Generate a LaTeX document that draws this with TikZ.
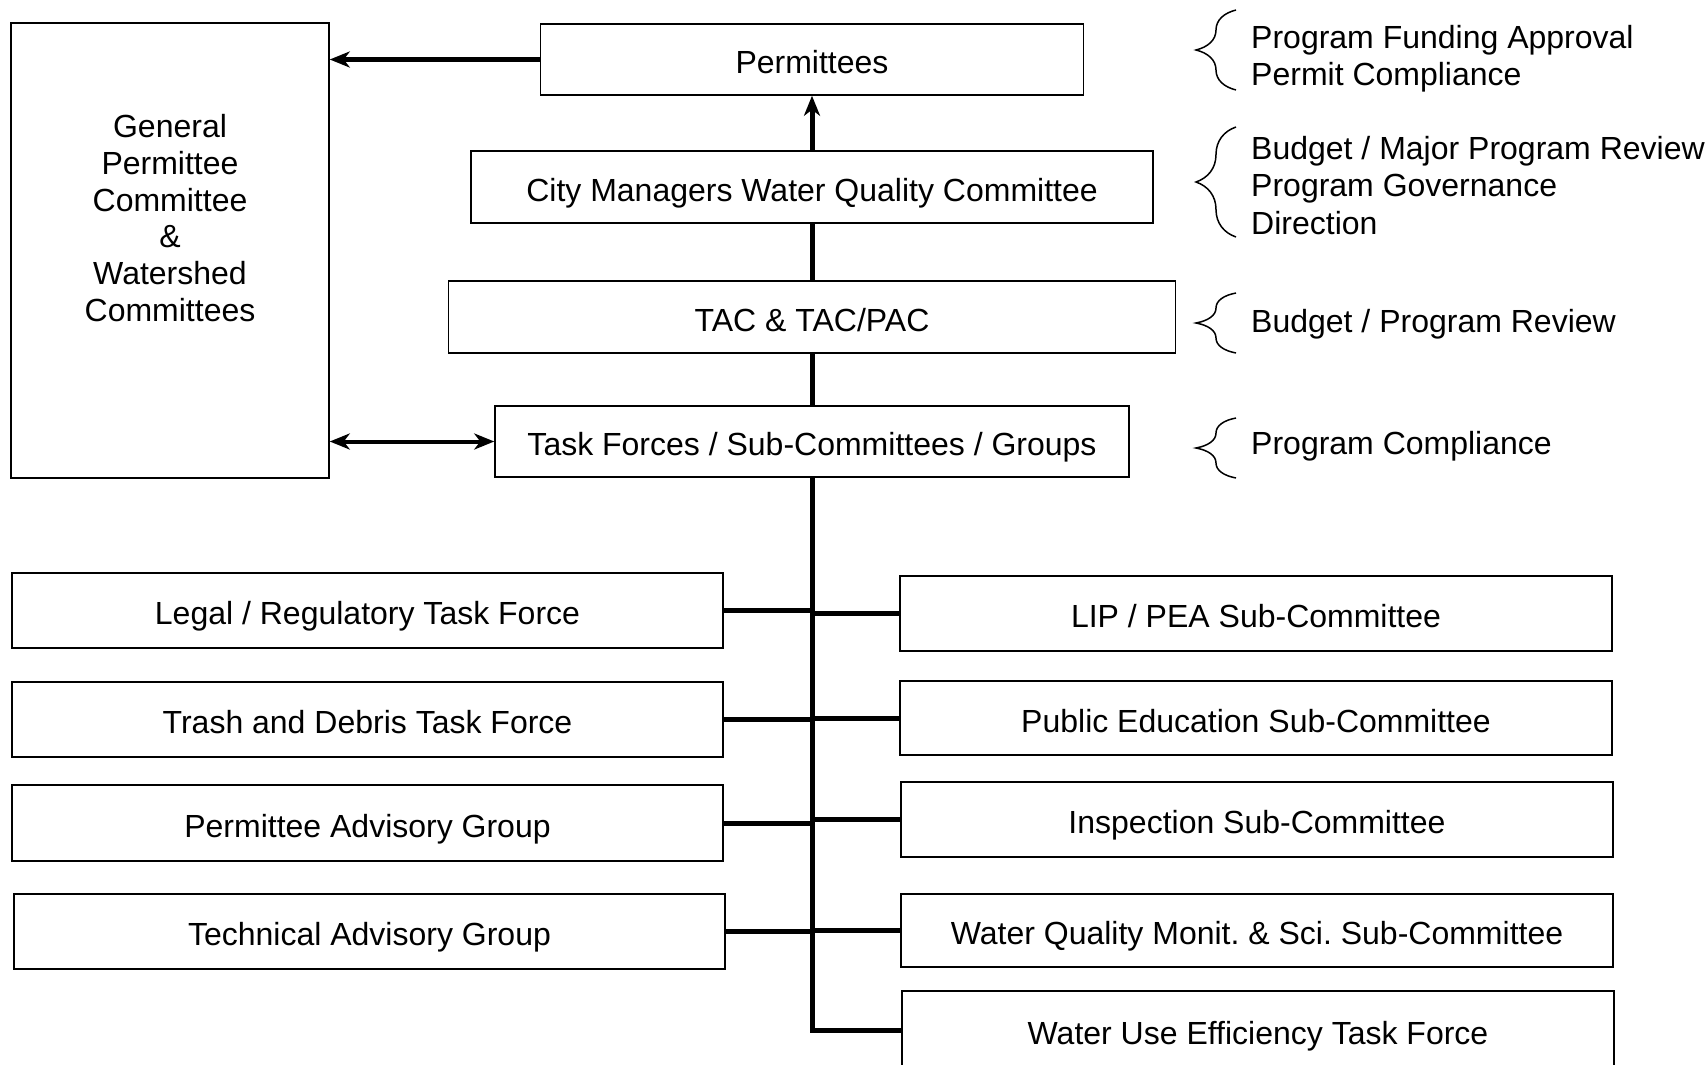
\documentclass[tikz,border=0pt]{standalone}
\usepackage{fontspec}
\setmainfont{Liberation Sans}
\usetikzlibrary{arrows.meta,decorations.pathreplacing}
\begin{document}
\frenchspacing
\begin{tikzpicture}[x=1pt,y=-1pt,
  box/.style={draw, line width=1.5pt, fill=white, rectangle, inner sep=0pt,
    text height=30pt, text depth=2pt,
    font=\fontsize{32}{37}\selectfont},
  conn/.style={line width=5pt},
  tipS/.tip={Stealth[length=20pt,width=16pt,inset=6pt]},
  arr/.style={line width=5pt, -tipS},
  darr/.style={line width=4pt, tipS-tipS},
  brc/.style={decorate, decoration={brace, amplitude=40pt}, line width=1.5pt},
  note/.style={anchor=west, align=left, inner sep=0pt,
    font=\fontsize{32}{37.5}\selectfont}]
\useasboundingbox (0,0) rectangle (1708,1065);

% left big box
\node[draw, line width=1.5pt, fill=white, minimum width=318pt, minimum height=455pt] (gpc) at (170,250.5) {};
\node[align=center, inner sep=0pt, font=\fontsize{32}{36.8}\selectfont] (gpctext) at (170,218)
  {General\\Permittee\\Committee\\\&\\Watershed\\Committees};

% central column
\node[box, minimum width=543pt, minimum height=71pt] (perm) at (812,59.5) {Permittees};
\node[box, minimum width=682pt, minimum height=72pt] (cm) at (812,187) {City Managers Water Quality Committee};
\node[box, minimum width=727pt, minimum height=72pt] (tac) at (812,317) {TAC \& TAC/PAC};
\node[box, minimum width=634pt, minimum height=71pt] (tf) at (812,441.5) {Task Forces / Sub-Committees / Groups};

% left column
\node[box, minimum width=711pt, minimum height=75pt] (legal) at (367.5,610.5) {Legal / Regulatory Task Force};
\node[box, minimum width=711pt, minimum height=75pt] (trash) at (367.5,719.5) {Trash and Debris Task Force};
\node[box, minimum width=711pt, minimum height=76pt] (pag) at (367.5,823) {Permittee Advisory Group};
\node[box, minimum width=711pt, minimum height=75pt] (tag) at (369.5,931.5) {Technical Advisory Group};

% right column
\node[box, minimum width=712pt, minimum height=75pt] (lip) at (1256,613.5) {LIP / PEA Sub-Committee};
\node[box, minimum width=712pt, minimum height=74pt] (pub) at (1256,718) {Public Education Sub-Committee};
\node[box, minimum width=712pt, minimum height=75pt] (insp) at (1257,819.5) {Inspection Sub-Committee};
\node[box, minimum width=712pt, minimum height=73pt] (wqm) at (1257,930.5) {Water Quality Monit. \& Sci. Sub-Committee};
\node[box, minimum width=712pt, minimum height=78pt] (wue) at (1258,1030) {Water Use Efficiency Task Force};

% connectors
\draw[arr] (perm.west) -- (perm.west -| gpc.east);
\draw[arr] (cm.north) -- (perm.south);
\draw[conn] (cm.south) -- (tac.north);
\draw[conn] (tac.south) -- (tf.north);
\draw[conn] (tf.south) |- (wue.west);
\draw[darr] (gpc.east |- tf.west) -- (tf.west);

\draw[conn] (legal.east) -- (legal.east -| tf.south);
\draw[conn] (trash.east) -- (trash.east -| tf.south);
\draw[conn] (pag.east) -- (pag.east -| tf.south);
\draw[conn] (tag.east) -- (tag.east -| tf.south);
\draw[conn] (lip.west -| tf.south) -- (lip.west);
\draw[conn] (pub.west -| tf.south) -- (pub.west);
\draw[conn] (insp.west -| tf.south) -- (insp.west);
\draw[conn] (wqm.west -| tf.south) -- (wqm.west);

% braces and notes
\draw[brc] (1236,90) -- (1236,10);
\node[note] (n1) at (1251,58.5) {Program Funding Approval\\Permit Compliance};
\draw[brc] (1236,237) -- (1236,127);
\node[note] (n2) at (1251,185.5) {Budget / Major Program Review\\Program Governance\\Direction};
\draw[brc] (1236,353) -- (1236,293);
\node[note] (n3) at (1251,324) {Budget / Program Review};
\draw[brc] (1236,478) -- (1236,418);
\node[note] (n4) at (1251,446) {Program Compliance};
\end{tikzpicture}
\end{document}
